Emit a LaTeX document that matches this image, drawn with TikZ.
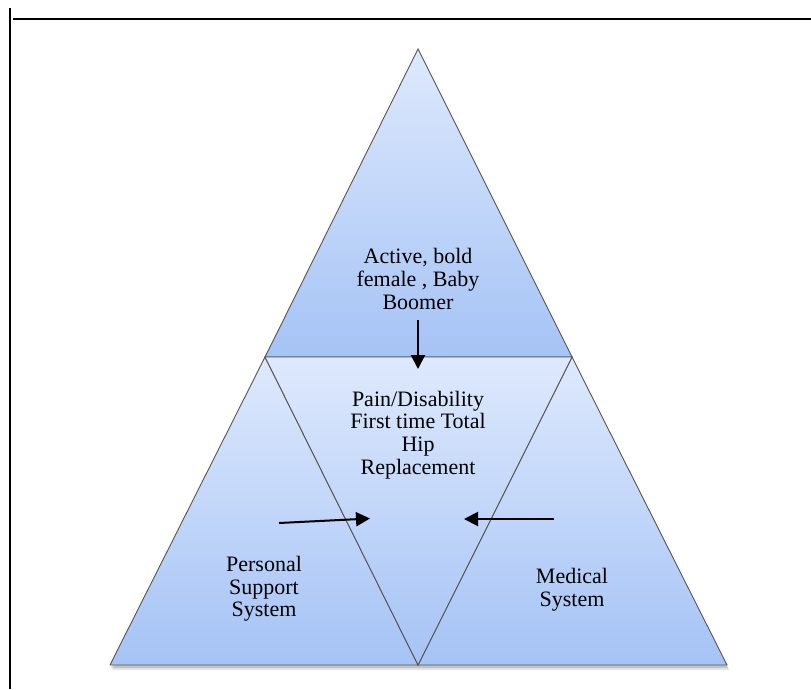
\documentclass[tikz,border=0pt]{standalone}
\usepackage{fontspec}
\setmainfont{Liberation Serif}
\usetikzlibrary{arrows.meta}

\definecolor{facelight}{RGB}{222,233,253}
\definecolor{facedark}{RGB}{165,195,245}
\definecolor{edgegray}{RGB}{85,85,85}

\tikzset{
  face/.style={draw=edgegray, line width=0.9pt, line join=miter,
               top color=facelight, bottom color=facedark},
  facetext/.style={align=center, inner sep=0pt, text=black,
                   font=\fontsize{22}{22.7}\selectfont},
  pointer/.style={line width=2pt, -{Triangle[length=14pt,width=14pt]}},
  rule/.style={line width=2pt, black}
}

\begin{document}
\begin{tikzpicture}[x=1pt, y=-1pt]
  \useasboundingbox (0,0) rectangle (811,689);

  % page rules
  \coordinate (vtop) at (10,8);
  \coordinate (vbot) at (10,689);
  \coordinate (hleft) at (13,18.5);
  \coordinate (hright) at (811,18.5);
  \draw[rule] (vtop) -- (vbot);
  \draw[rule] (hleft) -- (hright);

  % corners of the large triangle and its subdivision
  \coordinate (apex) at (418,49);
  \coordinate (ml) at (265,357);
  \coordinate (mr) at (572,357);
  \coordinate (bl) at (110,665);
  \coordinate (bm) at (418,665);
  \coordinate (br) at (727,665);

  % soft shadow under the whole figure
  \fill[black, opacity=0.10] ([shift={(2,5)}]bl) -- ([shift={(2,5)}]br) -- ([shift={(2,5)}]apex) -- cycle;
  \fill[black, opacity=0.15] ([shift={(1,3)}]bl) -- ([shift={(1,3)}]br) -- ([shift={(1,3)}]apex) -- cycle;

  % four faces
  \path[face] (apex) -- (mr) -- (ml) -- cycle;
  \path[face] (ml) -- (bm) -- (bl) -- cycle;
  \path[face] (mr) -- (br) -- (bm) -- cycle;
  \path[face] (ml) -- (mr) -- (bm) -- cycle;

  % labels
  \node[facetext] (person) at (418,279) {Active, bold\\female , Baby\\Boomer};
  \node[facetext] (event) at (418,435) {Pain/Disability\\First time Total\\Hip\\Replacement};
  \node[facetext] (support) at (264,589) {Personal\\Support\\System};
  \node[facetext] (medical) at (572,590) {Medical\\System};

  % influences pointing at the centre
  \coordinate (downfrom) at (418,320);
  \coordinate (downto) at (418,369);
  \coordinate (leftfrom) at (279,523);
  \coordinate (leftto) at (370,518.5);
  \coordinate (rightfrom) at (554,519);
  \coordinate (rightto) at (464,519);
  \draw[pointer] (downfrom) -- (downto);
  \draw[pointer] (leftfrom) -- (leftto);
  \draw[pointer] (rightfrom) -- (rightto);
\end{tikzpicture}
\end{document}
